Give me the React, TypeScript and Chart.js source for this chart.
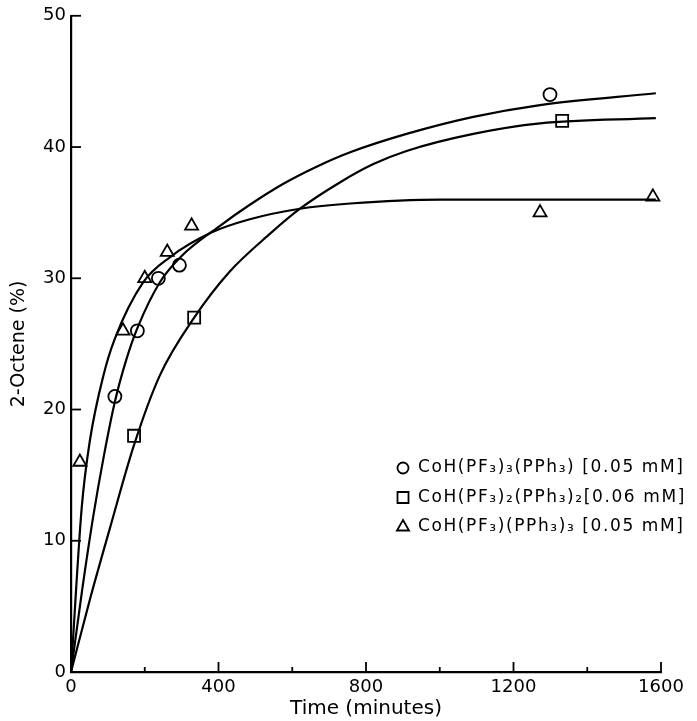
import React, { useEffect, useRef } from 'react';
import { Chart, registerables } from 'chart.js';

Chart.register(...registerables);

// Measured points
const circleTime = [119, 180, 237, 294, 1299];
const circleYield = [21, 26, 30, 31, 44];
const squareTime = [171, 334, 1332];
const squareYield = [18, 27, 42];
const triangleTime = [24, 141, 200, 261, 327, 1272, 1578];
const triangleYield = [16, 26, 30, 32, 34, 35, 36.2];

// Hand-drawn fitted curves
const circleFitTime = [0, 30, 60, 90, 119, 150, 180, 241, 300, 404, 485, 576, 666, 757, 910, 1091, 1272, 1586];
const circleFitYield = [0, 6.2, 11.8, 16.6, 20.6, 23.8, 26.2, 29.7, 31.7, 34.0, 35.6, 37.2, 38.5, 39.6, 41.0, 42.3, 43.2, 44.1];
const squareFitTime = [0, 52, 106, 171, 241, 334, 430, 540, 621, 729, 820, 910, 1091, 1272, 1586];
const squareFitYield = [0, 5.6, 11.0, 17.3, 22.6, 27.0, 30.5, 33.4, 35.3, 37.3, 38.7, 39.7, 41.0, 41.8, 42.2];
const triangleFitTime = [0, 29, 51, 88, 119, 196, 268, 382, 485, 621, 757, 1001, 1253, 1586];
const triangleFitYield = [0, 12.5, 17.6, 22.6, 25.4, 29.7, 31.6, 33.5, 34.5, 35.3, 35.7, 36.0, 36.0, 36.0];

const legendLabels = [
  'CoH(PF₃)₃(PPh₃) [0.05 mM]',
  'CoH(PF₃)₂(PPh₃)₂[0.06 mM]',
  'CoH(PF₃)(PPh₃)₃ [0.05 mM]',
];
const legendMarkers = ['circle', 'rect', 'triangle'];

const xMajorTicks = [400, 800, 1200, 1600];
const xMinorTicks = [200, 600, 1000, 1400];
const yMajorTicks = [10, 20, 30, 40, 50];

const FONT = "'DejaVu Sans', sans-serif";

function pts(xs: number[], ys: number[]) {
  return xs.map((x, i) => ({ x, y: ys[i] }));
}

function drawMarker(ctx: CanvasRenderingContext2D, style: string, x: number, y: number) {
  ctx.beginPath();
  if (style === 'circle') {
    ctx.arc(x, y, 5.5, 0, Math.PI * 2);
  } else if (style === 'rect') {
    ctx.rect(x - 5.5, y - 5.5, 11, 11);
  } else {
    const r = 7;
    ctx.moveTo(x, y - r);
    ctx.lineTo(x + r * Math.cos(Math.PI / 6), y + r * 0.5);
    ctx.lineTo(x - r * Math.cos(Math.PI / 6), y + r * 0.5);
    ctx.closePath();
  }
  ctx.fillStyle = '#fff';
  ctx.fill();
  ctx.stroke();
}

const decorPlugin = {
  id: 'decor',
  afterDraw(chart: any) {
    const { ctx, chartArea, scales } = chart;
    const xs = scales.x;
    const ys = scales.y;
    ctx.save();
    ctx.strokeStyle = '#000';
    ctx.lineWidth = 1.8;
    // inward ticks
    for (const v of xMajorTicks) {
      const px = xs.getPixelForValue(v);
      ctx.beginPath();
      ctx.moveTo(px, chartArea.bottom);
      ctx.lineTo(px, chartArea.bottom - 10);
      ctx.stroke();
    }
    for (const v of xMinorTicks) {
      const px = xs.getPixelForValue(v);
      ctx.beginPath();
      ctx.moveTo(px, chartArea.bottom);
      ctx.lineTo(px, chartArea.bottom - 5);
      ctx.stroke();
    }
    for (const v of yMajorTicks) {
      const py = ys.getPixelForValue(v);
      ctx.beginPath();
      ctx.moveTo(chartArea.left, py);
      ctx.lineTo(chartArea.left + 10, py);
      ctx.stroke();
    }
    // legend inside plot area
    const lx = chartArea.right - 258;
    const ly0 = chartArea.bottom - 204;
    ctx.lineWidth = 1.8;
    ctx.font = `17px ${FONT}`;
    (ctx as any).letterSpacing = '1.6px';
    ctx.textBaseline = 'middle';
    ctx.textAlign = 'left';
    legendLabels.forEach((label, i) => {
      const y = ly0 + i * 29.5;
      drawMarker(ctx, legendMarkers[i], lx, y);
      ctx.fillStyle = '#000';
      ctx.fillText(label, lx + 15, y);
    });
    ctx.restore();
  },
};

export default function App() {
  const ref = useRef<HTMLCanvasElement>(null);
  useEffect(() => {
    if (!ref.current) return;
    const lineDs = (xs: number[], ys: number[]) => ({
      data: pts(xs, ys),
      showLine: true,
      borderColor: '#000',
      borderWidth: 2.2,
      pointRadius: 0,
      cubicInterpolationMode: 'monotone',
      fill: false,
    });
    const pointDs = (xs: number[], ys: number[], style: string, r: number) => ({
      data: pts(xs, ys),
      showLine: false,
      pointStyle: style,
      pointRadius: r,
      pointBorderColor: '#000',
      pointBackgroundColor: '#fff',
      pointBorderWidth: 1.8,
    });
    const chart = new Chart(ref.current, {
      type: 'scatter',
      data: {
        datasets: [
          lineDs(circleFitTime, circleFitYield),
          lineDs(squareFitTime, squareFitYield),
          lineDs(triangleFitTime, triangleFitYield),
          pointDs(circleTime, circleYield, 'circle', 6.5),
          pointDs(squareTime, squareYield, 'rect', 8.5),
          pointDs(triangleTime, triangleYield, 'triangle', 7.5),
        ] as any,
      },
      options: {
        animation: false,
        responsive: false,
        devicePixelRatio: 1,
        layout: { padding: { top: 14, right: 36, left: 0, bottom: 0 } },
        plugins: { legend: { display: false }, tooltip: { enabled: false } },
        scales: {
          x: {
            type: 'linear',
            min: 0,
            max: 1600,
            afterFit: (s: any) => { s.height = 49; },
            grid: { display: true, drawOnChartArea: false, drawTicks: false },
            border: { display: true, color: '#000', width: 2.2 },
            ticks: {
              stepSize: 400, color: '#000', font: { size: 18, family: FONT }, padding: 5,
              maxRotation: 0, autoSkip: false, callback: (v: any) => String(v),
            },
            title: { display: true, text: 'Time (minutes)', color: '#000', font: { size: 20, family: FONT }, padding: { top: -2, bottom: 0 } },
          },
          y: {
            type: 'linear',
            min: 0,
            max: 50,
            afterFit: (s: any) => { s.width = 71; },
            grid: { display: true, drawOnChartArea: false, drawTicks: false },
            border: { display: true, color: '#000', width: 2.2 },
            ticks: {
              stepSize: 10, color: '#000', font: { size: 18, family: FONT }, padding: 5,
              callback: (v: any) => String(v),
            },
            title: { display: true, text: '2-Octene (%)', color: '#000', font: { size: 19, family: FONT }, padding: { top: 8, bottom: 0 } },
          },
        },
      } as any,
      plugins: [decorPlugin],
    });
    return () => chart.destroy();
  }, []);
  return (
    <div style={{ position: 'fixed', left: 0, top: 0, width: 697, height: 721, background: '#fff' }}>
      <canvas ref={ref} width={697} height={721} style={{ display: 'block' }} />
    </div>
  );
}
